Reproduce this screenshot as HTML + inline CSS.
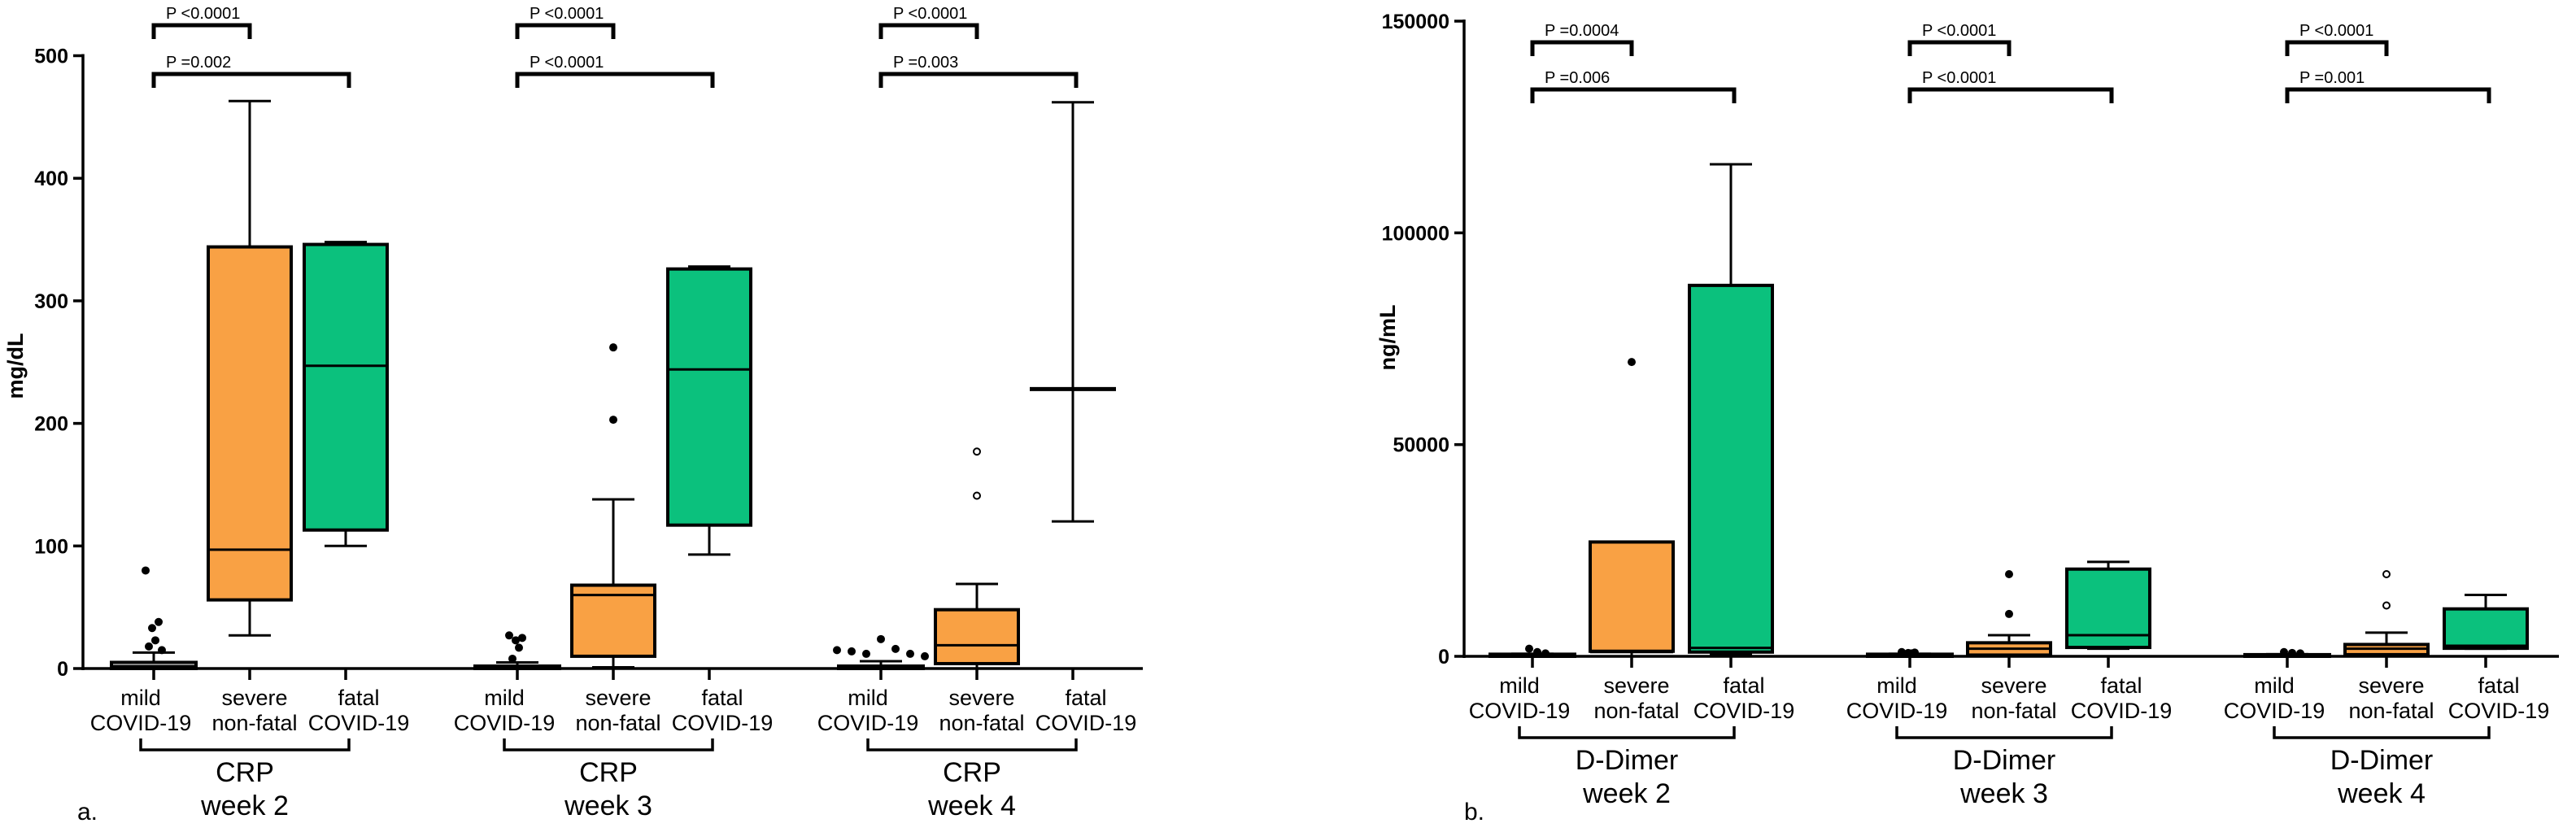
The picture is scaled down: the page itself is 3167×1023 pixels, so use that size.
<!DOCTYPE html>
<html><head><meta charset="utf-8">
<style>
html,body{margin:0;padding:0;background:#fff;}
svg{display:block;font-family:"Liberation Sans",Arial,sans-serif;}
</style></head>
<body>
<svg id="chart" width="3167" height="1023" viewBox="0 0 3167 1023" xmlns="http://www.w3.org/2000/svg"></svg>
<script>
// ---------- DATA ----------
const groupLabels = ["mild|COVID-19","severe|non-fatal","fatal|COVID-19"];
const crpWeeks = ["CRP|week 2","CRP|week 3","CRP|week 4"];
const ddWeeks = ["D-Dimer|week 2","D-Dimer|week 3","D-Dimer|week 4"];
const crpTicks = [0,100,200,300,400,500];
const ddTicks = [0,50000,100000,150000];
// each box: [min, q1, median, q3, max]  (null => no box)
const crpBoxes = [
  [0,0,2,5,13],[27,56,97,344,463],[100,113,247,346,348],
  [0,0,1,2,5],[1,10,60,68,138],[93,117,244,326,328],
  [0,0,1,2,6],[0,4,19,48,69],[120,null,228,null,462]
];
const crpOutliers = [
  [80,38,33,23,18,15],[],[],
  [27,25,23,17,8],[262,203],[],
  [15,14,12,24,16,12,10],[141,177],[]
];
const crpOpen = [false,false,false,false,false,false,false,true,false];
const crpP = [["P <0.0001","P =0.002"],["P <0.0001","P <0.0001"],["P <0.0001","P =0.003"]];
const ddBoxes = [
  [0,0,200,500,600],[0,1200,1000,27000,27000],[500,1000,2000,87600,116200],
  [0,0,200,500,600],[0,300,1800,3200,5000],[1800,2100,5000,20600,22300],
  [0,0,200,400,500],[0,400,1800,2800,5600],[1800,1900,2500,11200,14500]
];
const ddOutliers = [
  [1800,1000,700],[69500],[],
  [1000,900,800,700],[10000,19400],[],
  [1000,800,700],[12000,19400],[]
];
const ddOpen = [false,false,false,false,false,false,false,true,false];
const ddP = [["P =0.0004","P =0.006"],["P <0.0001","P <0.0001"],["P <0.0001","P =0.001"]];

// ---------- DRAW ----------
const svg = document.getElementById('chart');
const NS = 'http://www.w3.org/2000/svg';
function mk(tag, attrs, parent){
  const e = document.createElementNS(NS, tag);
  for (const k in attrs) e.setAttribute(k, attrs[k]);
  (parent||svg).appendChild(e);
  return e;
}
const fills = ["#ffffff","#F9A144","#0BC17D"];

function panel(cfg){
  const g = mk('g',{});
  
  
  const y = v => cfg.y0 - (v/cfg.vmax)*(cfg.y0-cfg.yTop);
  const xPos = (w,i) => cfg.x0 + w*cfg.gOff + i*cfg.sp;
  const ax = mk('line',{x1:cfg.ax,y1:y(cfg.vmax)-2,x2:cfg.ax,y2:cfg.y0+2,stroke:'#000','stroke-width':3.5},g);
  
  
  cfg.ticks.forEach(t=>{
    mk('line',{x1:cfg.ax-12,y1:y(t),x2:cfg.ax,y2:y(t),stroke:'#000','stroke-width':3.5},g);
    const tl = mk('text',{x:cfg.ax-18,y:y(t)+9,'text-anchor':'end','font-size':25,'font-weight':'bold'},g);
    tl.textContent = t;
    
    
  });
  const yt = mk('text',{x:cfg.ytX,y:cfg.ytY,'text-anchor':'middle','font-size':27,'font-weight':'bold',transform:`rotate(-90 ${cfg.ytX} ${cfg.ytY})`},g);
  yt.textContent = cfg.ytitle;
  
  
  const xa = mk('line',{x1:cfg.ax,y1:cfg.y0,x2:cfg.axEnd,y2:cfg.y0,stroke:'#000','stroke-width':3.5},g);
  
  
  for (let w=0;w<3;w++){
    for (let i=0;i<3;i++){
      const idx=w*3+i, cx=xPos(w,i), b=cfg.boxes[idx];
      const bw = i===0?104:102;
      const bg = mk('g',{},g);
      
      
      mk('line',{x1:cx,y1:cfg.y0,x2:cx,y2:cfg.y0+14,stroke:'#000','stroke-width':3.5},bg);
      const lo = b[1]===null?b[2]:b[1], hi = b[3]===null?b[2]:b[3];
      mk('line',{x1:cx,y1:y(b[4]),x2:cx,y2:y(hi),stroke:'#000','stroke-width':3},bg);
      mk('line',{x1:cx,y1:y(lo),x2:cx,y2:y(b[0]),stroke:'#000','stroke-width':3},bg);
      mk('line',{x1:cx-26,y1:y(b[4]),x2:cx+26,y2:y(b[4]),stroke:'#000','stroke-width':3},bg);
      mk('line',{x1:cx-26,y1:y(b[0]),x2:cx+26,y2:y(b[0]),stroke:'#000','stroke-width':3},bg);
      if (b[1]!==null){
        mk('rect',{x:cx-bw/2,y:y(b[3]),width:bw,height:Math.max(1,y(b[1])-y(b[3])),fill:fills[i],stroke:'#000','stroke-width':4},bg);
        mk('line',{x1:cx-bw/2,y1:y(b[2]),x2:cx+bw/2,y2:y(b[2]),stroke:'#000','stroke-width':3},bg);
      } else {
        mk('line',{x1:cx-53,y1:y(b[2]),x2:cx+53,y2:y(b[2]),stroke:'#000','stroke-width':5},bg);
      }
      cfg.outl[idx].forEach((v,k)=>{
        const n=cfg.outl[idx].length;
        const dx = n>=7 ? (k-(n-1)/2)*18 : (n>3 ? ((k%2)?6:-6)+(k%3-1)*4 : (i===0 ? k*10-4 : 0));
        const open = cfg.open[idx];
        const c = mk('circle',{cx:cx+dx,cy:y(v),r:open?4:5,fill:open?'#fff':'#000',stroke:'#000','stroke-width':open?2:0},bg);
        
        
      });
      const lines = groupLabels[i].split('|');
      const lx = cx + [-16,6,16][i];
      lines.forEach((s,li)=>{
        const t = mk('text',{x:lx,y:cfg.y0+45+li*31,'text-anchor':'middle','font-size':27},g);
        t.textContent=s;
        
        
      });
    }
    const gx1 = xPos(w,0)-16, gx2 = xPos(w,2)+4, gy = cfg.y0+100;
    mk('path',{d:`M${gx1} ${gy-14} V${gy} H${gx2} V${gy-14}`,fill:'none',stroke:'#000','stroke-width':3.5},g);
    const wl = cfg.weeks[w].split('|'), wx=(gx1+gx2)/2;
    wl.forEach((s,li)=>{
      const t = mk('text',{x:wx,y:gy+39+li*41,'text-anchor':'middle','font-size':34},g);
      t.textContent=s;
      
      
    });
    const pb = [[0,1,cfg.b1],[0,2,cfg.b2]];
    pb.forEach(([a,c,by],k)=>{
      const xa1 = xPos(w,a), xa2 = xPos(w,c)+(k===1?4:0);
      const p = mk('path',{d:`M${xa1} ${by+17} V${by} H${xa2} V${by+17}`,fill:'none',stroke:'#000','stroke-width':5},g);
      
      
      const t = mk('text',{x:xa1+15,y:by-8,'font-size':20},g);
      t.textContent = cfg.p[w][k];
      
      
    });
  }
  const pl = mk('text',{x:cfg.plX,y:1008,'font-size':30},g);
  pl.textContent = cfg.panelLabel;
  
  
}

panel({name:'crp-panel',ax:102,axEnd:1405,y0:822,yTop:68.5,vmax:500,ticks:crpTicks,
  x0:189,gOff:447,sp:118,boxes:crpBoxes,outl:crpOutliers,open:crpOpen,weeks:crpWeeks,p:crpP,
  b1:31,b2:91,ytitle:'mg/dL',ytX:28,ytY:450,plX:95,panelLabel:'a.'});
panel({name:'ddimer-panel',ax:1800,axEnd:3146,y0:807,yTop:26,vmax:150000,ticks:ddTicks,
  x0:1884,gOff:464,sp:122,boxes:ddBoxes,outl:ddOutliers,open:ddOpen,weeks:ddWeeks,p:ddP,
  b1:52,b2:110,ytitle:'ng/mL',ytX:1715,ytY:415,plX:1800,panelLabel:'b.'});
</script>
</body></html>
